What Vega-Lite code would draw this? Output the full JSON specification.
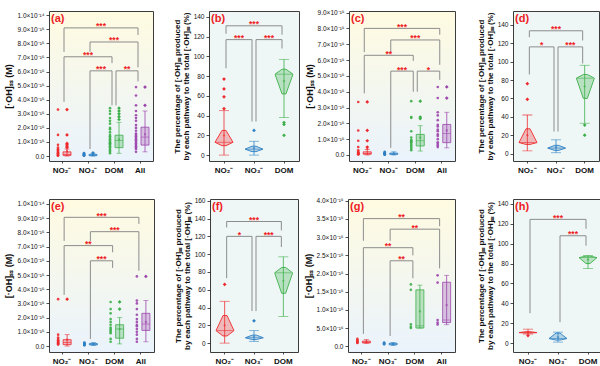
{
"$schema":"https://vega.github.io/schema/vega-lite/v6.json",
"padding":{"left":4,"top":9,"right":0,"bottom":0},
"background":"white",
"config":{
 "font":"Liberation Sans",
 "axis":{"domain":false,"grid":false,"tickColor":"#222","tickSize":3,"tickWidth":0.8,"labelFontSize":6.5,"labelColor":"#111","titleFontWeight":"bold","titleFontSize":9,"titleColor":"#111","labelPadding":2,"titlePadding":3,"labelOverlap":false},
 "axisX":{"labelFontSize":8,"labelFontWeight":"bold","labelAngle":0,"tickSize":2,"labelPadding":3}
},
"spacing":22,
"vconcat":[
{"hconcat":[
 {"hconcat":[
  {"width":104,"height":150,
   "view":{"fill":{"gradient":"linear","x1":0,"y1":0,"x2":0,"y2":1,"stops":[{"offset":0,"color":"#fffbe1"},{"offset":1,"color":"#eaf3fc"}]},"stroke":"#3c3c3c","strokeWidth":1},
   "layer":[
    {"data":{"name":"a_pts"},"mark":{"type":"circle","size":7,"opacity":0.9,"xOffset":-4},
     "encoding":{"x":{"field":"c","type":"nominal","bandPosition":0.5,"scale":{"type":"band","domain":["NO₂⁻","NO₃⁻","DOM","All"],"paddingInner":0,"paddingOuter":0},"axis":{"title":null}},
      "y":{"field":"v","type":"quantitative","scale":{"domain":[-0.35,10.3],"nice":false,"zero":false},"axis":{"title":"[·OH]ₛₛ (M)","values":[0,1,2,3,4,5,6,7,8,9,10],"tickCount":30,"labelOverlap":false,"labelExpr":"datum.value == 0 ? '0.0' : datum.value >= 10 ? '1.0×10⁻¹⁴' : format(datum.value, '.1f') + '×10⁻¹⁵'"}},
      "color":{"field":"c","type":"nominal","scale":{"domain":["NO₂⁻","NO₃⁻","DOM","All"],"range":["#ee2a2e","#2f80c3","#3daf4a","#9c45ac"]},"legend":null}}},
    {"data":{"name":"a_box"},"mark":{"type":"rule","xOffset":5,"strokeWidth":0.8},
     "encoding":{"x":{"field":"c","type":"nominal","bandPosition":0.5,"scale":{"type":"band","domain":["NO₂⁻","NO₃⁻","DOM","All"],"paddingInner":0,"paddingOuter":0}},"y":{"field":"lo","type":"quantitative"},"y2":{"field":"hi"},"color":{"field":"c","type":"nominal","scale":{"domain":["NO₂⁻","NO₃⁻","DOM","All"],"range":["#ee2a2e","#2f80c3","#3daf4a","#9c45ac"]},"legend":null}}},
    {"data":{"name":"a_box"},"mark":{"type":"tick","xOffset":5,"size":5,"thickness":0.8,"orient":"horizontal"},
     "encoding":{"x":{"field":"c","type":"nominal","bandPosition":0.5,"scale":{"type":"band","domain":["NO₂⁻","NO₃⁻","DOM","All"],"paddingInner":0,"paddingOuter":0}},"y":{"field":"hi","type":"quantitative"},"color":{"field":"c","type":"nominal","scale":{"domain":["NO₂⁻","NO₃⁻","DOM","All"],"range":["#ee2a2e","#2f80c3","#3daf4a","#9c45ac"]},"legend":null}}},
    {"data":{"name":"a_box"},"mark":{"type":"tick","xOffset":5,"size":5,"thickness":0.8,"orient":"horizontal"},
     "encoding":{"x":{"field":"c","type":"nominal","bandPosition":0.5,"scale":{"type":"band","domain":["NO₂⁻","NO₃⁻","DOM","All"],"paddingInner":0,"paddingOuter":0}},"y":{"field":"lo","type":"quantitative"},"color":{"field":"c","type":"nominal","scale":{"domain":["NO₂⁻","NO₃⁻","DOM","All"],"range":["#ee2a2e","#2f80c3","#3daf4a","#9c45ac"]},"legend":null}}},
    {"data":{"name":"a_box"},"mark":{"type":"bar","width":8,"xOffset":5,"fillOpacity":0.3,"strokeWidth":0.8},
     "encoding":{"x":{"field":"c","type":"nominal","bandPosition":0.5,"scale":{"type":"band","domain":["NO₂⁻","NO₃⁻","DOM","All"],"paddingInner":0,"paddingOuter":0}},"y":{"field":"q1","type":"quantitative"},"y2":{"field":"q3"},"fill":{"field":"c","type":"nominal","scale":{"domain":["NO₂⁻","NO₃⁻","DOM","All"],"range":["#ee2a2e","#2f80c3","#3daf4a","#9c45ac"]},"legend":null},"stroke":{"field":"c","type":"nominal","scale":{"domain":["NO₂⁻","NO₃⁻","DOM","All"],"range":["#ee2a2e","#2f80c3","#3daf4a","#9c45ac"]},"legend":null}}},
    {"data":{"name":"a_box"},"mark":{"type":"tick","xOffset":5,"size":8,"thickness":0.8,"orient":"horizontal"},
     "encoding":{"x":{"field":"c","type":"nominal","bandPosition":0.5,"scale":{"type":"band","domain":["NO₂⁻","NO₃⁻","DOM","All"],"paddingInner":0,"paddingOuter":0}},"y":{"field":"med","type":"quantitative"},"color":{"field":"c","type":"nominal","scale":{"domain":["NO₂⁻","NO₃⁻","DOM","All"],"range":["#ee2a2e","#2f80c3","#3daf4a","#9c45ac"]},"legend":null}}},
    {"data":{"name":"a_box"},"mark":{"type":"square","xOffset":5,"size":4,"filled":true},
     "encoding":{"x":{"field":"c","type":"nominal","bandPosition":0.5,"scale":{"type":"band","domain":["NO₂⁻","NO₃⁻","DOM","All"],"paddingInner":0,"paddingOuter":0}},"y":{"field":"mean","type":"quantitative"},"color":{"field":"c","type":"nominal","scale":{"domain":["NO₂⁻","NO₃⁻","DOM","All"],"range":["#ee2a2e","#2f80c3","#3daf4a","#9c45ac"]},"legend":null}}},
    {"data":{"name":"a_out"},"mark":{"type":"point","shape":"diamond","filled":true,"size":14,"opacity":1,"xOffset":5},
     "encoding":{"x":{"field":"c","type":"nominal","bandPosition":0.5,"scale":{"type":"band","domain":["NO₂⁻","NO₃⁻","DOM","All"],"paddingInner":0,"paddingOuter":0}},"y":{"field":"v","type":"quantitative"},"color":{"field":"c","type":"nominal","scale":{"domain":["NO₂⁻","NO₃⁻","DOM","All"],"range":["#ee2a2e","#2f80c3","#3daf4a","#9c45ac"]},"legend":null}}},
    {"data":{"name":"a_br"},"mark":{"type":"rule","color":"#8c8c8c","strokeWidth":1,"xOffset":2,"x2Offset":-2},
     "encoding":{"x":{"field":"g1","type":"nominal","bandPosition":0.5,"scale":{"type":"band","domain":["NO₂⁻","NO₃⁻","DOM","All"],"paddingInner":0,"paddingOuter":0}},"x2":{"field":"g2","bandPosition":0.5},"y":{"field":"h","type":"quantitative"}}},
    {"data":{"name":"a_br"},"mark":{"type":"rule","color":"#8c8c8c","strokeWidth":1,"xOffset":2},
     "encoding":{"x":{"field":"g1","type":"nominal","bandPosition":0.5,"scale":{"type":"band","domain":["NO₂⁻","NO₃⁻","DOM","All"],"paddingInner":0,"paddingOuter":0}},"y":{"field":"h","type":"quantitative"},"y2":{"field":"yl"}}},
    {"data":{"name":"a_br"},"mark":{"type":"rule","color":"#8c8c8c","strokeWidth":1,"xOffset":-2},
     "encoding":{"x":{"field":"g2","type":"nominal","bandPosition":0.5,"scale":{"type":"band","domain":["NO₂⁻","NO₃⁻","DOM","All"],"paddingInner":0,"paddingOuter":0}},"y":{"field":"h","type":"quantitative"},"y2":{"field":"yr"}}},
    {"data":{"name":"a_br"},"transform":[{"filter":"isValid(datum.atc)"}],"mark":{"type":"text","color":"#ee1c25","fontSize":8.5,"fontWeight":"bold","baseline":"alphabetic","dy":1.5},
     "encoding":{"x":{"field":"atc","type":"nominal","bandPosition":0.5,"scale":{"type":"band","domain":["NO₂⁻","NO₃⁻","DOM","All"],"paddingInner":0,"paddingOuter":0}},"y":{"field":"h","type":"quantitative"},"text":{"field":"s"}}},
    {"data":{"name":"a_br"},"transform":[{"filter":"isValid(datum.ate)"}],"mark":{"type":"text","color":"#ee1c25","fontSize":8.5,"fontWeight":"bold","baseline":"alphabetic","dy":1.5},
     "encoding":{"x":{"field":"ate","type":"nominal","bandPosition":0,"scale":{"type":"band","domain":["NO₂⁻","NO₃⁻","DOM","All"],"paddingInner":0,"paddingOuter":0}},"y":{"field":"h","type":"quantitative"},"text":{"field":"s"}}},
    {"data":{"values":[{}]},"mark":{"type":"text","text":"(a)","align":"left","baseline":"top","dx":2,"dy":2,"fontSize":11,"fontWeight":"bold","color":"#ee1c25"},
     "encoding":{"x":{"datum":"NO₂⁻","type":"nominal","bandPosition":0,"scale":{"type":"band","domain":["NO₂⁻","NO₃⁻","DOM","All"],"paddingInner":0,"paddingOuter":0}},"y":{"datum":10.3,"type":"quantitative"}}}
   ]},
  {"width":90,"height":150,
   "view":{"fill":"#eef7f6","stroke":"#3c3c3c","strokeWidth":1},
   "layer":[
    {"data":{"name":"b_box"},"mark":{"type":"rule","strokeWidth":0.8},
     "encoding":{"x":{"field":"c","type":"nominal","bandPosition":0.5,"scale":{"type":"band","domain":["NO₂⁻","NO₃⁻","DOM"],"paddingInner":0,"paddingOuter":0},"axis":{"title":null}},
      "y":{"field":"lo","type":"quantitative","scale":{"domain":[-6,146],"nice":false,"zero":false},"axis":{"title":["The percentage of [·OH]ₛₛ produced","by each pathway to the total [·OH]ₛₛ (%)"],"values":[0,20,40,60,80,100,120,140],"tickCount":30,"labelOverlap":false,"titleFontSize":8,"titleLineHeight":9}},
      "y2":{"field":"hi"},"color":{"field":"c","type":"nominal","scale":{"domain":["NO₂⁻","NO₃⁻","DOM","All"],"range":["#ee2a2e","#2f80c3","#3daf4a","#9c45ac"]},"legend":null}}},
    {"data":{"name":"b_box"},"mark":{"type":"tick","size":10,"thickness":0.8,"orient":"horizontal"},
     "encoding":{"x":{"field":"c","type":"nominal","bandPosition":0.5,"scale":{"type":"band","domain":["NO₂⁻","NO₃⁻","DOM"],"paddingInner":0,"paddingOuter":0}},"y":{"field":"lo","type":"quantitative"},"color":{"field":"c","type":"nominal","scale":{"domain":["NO₂⁻","NO₃⁻","DOM","All"],"range":["#ee2a2e","#2f80c3","#3daf4a","#9c45ac"]},"legend":null}}},
    {"data":{"name":"b_box"},"mark":{"type":"tick","size":10,"thickness":0.8,"orient":"horizontal"},
     "encoding":{"x":{"field":"c","type":"nominal","bandPosition":0.5,"scale":{"type":"band","domain":["NO₂⁻","NO₃⁻","DOM"],"paddingInner":0,"paddingOuter":0}},"y":{"field":"hi","type":"quantitative"},"color":{"field":"c","type":"nominal","scale":{"domain":["NO₂⁻","NO₃⁻","DOM","All"],"range":["#ee2a2e","#2f80c3","#3daf4a","#9c45ac"]},"legend":null}}},
    {"data":{"name":"b_box"},"transform":[{"fold":["q1","med","q3","q3","med","q1","q1"],"as":["k","kv"]},{"window":[{"op":"row_number","as":"idx"}],"groupby":["c"]}],"mark":{"type":"line","strokeWidth":0.9,"strokeJoin":"miter","fillOpacity":0.3},
     "encoding":{"x":{"field":"c","type":"nominal","bandPosition":0.5,"scale":{"type":"band","domain":["NO₂⁻","NO₃⁻","DOM"],"paddingInner":0,"paddingOuter":0}},"xOffset":{"field":"idx","type":"quantitative","scale":{"domain":[1,2,3,4,5,6,7],"range":[13,6,13,17,24,17,13],"zero":false,"nice":false}},"y":{"field":"kv","type":"quantitative"},"order":{"field":"idx","type":"quantitative"},"fill":{"field":"c","type":"nominal","scale":{"domain":["NO₂⁻","NO₃⁻","DOM","All"],"range":["#ee2a2e","#2f80c3","#3daf4a","#9c45ac"]},"legend":null},"stroke":{"field":"c","type":"nominal","scale":{"domain":["NO₂⁻","NO₃⁻","DOM","All"],"range":["#ee2a2e","#2f80c3","#3daf4a","#9c45ac"]},"legend":null}}},
    {"data":{"name":"b_box"},"mark":{"type":"tick","size":16,"thickness":0.8,"orient":"horizontal"},
     "encoding":{"x":{"field":"c","type":"nominal","bandPosition":0.5,"scale":{"type":"band","domain":["NO₂⁻","NO₃⁻","DOM"],"paddingInner":0,"paddingOuter":0}},"y":{"field":"med","type":"quantitative"},"color":{"field":"c","type":"nominal","scale":{"domain":["NO₂⁻","NO₃⁻","DOM","All"],"range":["#ee2a2e","#2f80c3","#3daf4a","#9c45ac"]},"legend":null}}},
    {"data":{"name":"b_box"},"mark":{"type":"point","shape":"cross","size":5,"filled":true},
     "encoding":{"x":{"field":"c","type":"nominal","bandPosition":0.5,"scale":{"type":"band","domain":["NO₂⁻","NO₃⁻","DOM"],"paddingInner":0,"paddingOuter":0}},"y":{"field":"mean","type":"quantitative"},"color":{"field":"c","type":"nominal","scale":{"domain":["NO₂⁻","NO₃⁻","DOM","All"],"range":["#ee2a2e","#2f80c3","#3daf4a","#9c45ac"]},"legend":null}}},
    {"data":{"name":"b_out"},"mark":{"type":"point","shape":"diamond","filled":true,"size":14,"opacity":1},
     "encoding":{"x":{"field":"c","type":"nominal","bandPosition":0.5,"scale":{"type":"band","domain":["NO₂⁻","NO₃⁻","DOM"],"paddingInner":0,"paddingOuter":0}},"y":{"field":"v","type":"quantitative"},"color":{"field":"c","type":"nominal","scale":{"domain":["NO₂⁻","NO₃⁻","DOM","All"],"range":["#ee2a2e","#2f80c3","#3daf4a","#9c45ac"]},"legend":null}}},
    {"data":{"name":"b_br"},"mark":{"type":"rule","color":"#8c8c8c","strokeWidth":1,"xOffset":2,"x2Offset":-2},
     "encoding":{"x":{"field":"g1","type":"nominal","bandPosition":0.5,"scale":{"type":"band","domain":["NO₂⁻","NO₃⁻","DOM"],"paddingInner":0,"paddingOuter":0}},"x2":{"field":"g2","bandPosition":0.5},"y":{"field":"h","type":"quantitative"}}},
    {"data":{"name":"b_br"},"mark":{"type":"rule","color":"#8c8c8c","strokeWidth":1,"xOffset":2},
     "encoding":{"x":{"field":"g1","type":"nominal","bandPosition":0.5,"scale":{"type":"band","domain":["NO₂⁻","NO₃⁻","DOM"],"paddingInner":0,"paddingOuter":0}},"y":{"field":"h","type":"quantitative"},"y2":{"field":"yl"}}},
    {"data":{"name":"b_br"},"mark":{"type":"rule","color":"#8c8c8c","strokeWidth":1,"xOffset":-2},
     "encoding":{"x":{"field":"g2","type":"nominal","bandPosition":0.5,"scale":{"type":"band","domain":["NO₂⁻","NO₃⁻","DOM"],"paddingInner":0,"paddingOuter":0}},"y":{"field":"h","type":"quantitative"},"y2":{"field":"yr"}}},
    {"data":{"name":"b_br"},"transform":[{"filter":"isValid(datum.atc)"}],"mark":{"type":"text","color":"#ee1c25","fontSize":8.5,"fontWeight":"bold","baseline":"alphabetic","dy":1.5},
     "encoding":{"x":{"field":"atc","type":"nominal","bandPosition":0.5,"scale":{"type":"band","domain":["NO₂⁻","NO₃⁻","DOM"],"paddingInner":0,"paddingOuter":0}},"y":{"field":"h","type":"quantitative"},"text":{"field":"s"}}},
    {"data":{"name":"b_br"},"transform":[{"filter":"isValid(datum.ate)"}],"mark":{"type":"text","color":"#ee1c25","fontSize":8.5,"fontWeight":"bold","baseline":"alphabetic","dy":1.5},
     "encoding":{"x":{"field":"ate","type":"nominal","bandPosition":0,"scale":{"type":"band","domain":["NO₂⁻","NO₃⁻","DOM"],"paddingInner":0,"paddingOuter":0}},"y":{"field":"h","type":"quantitative"},"text":{"field":"s"}}},
    {"data":{"values":[{}]},"mark":{"type":"text","text":"(b)","align":"left","baseline":"top","dx":2,"dy":2,"fontSize":11,"fontWeight":"bold","color":"#ee1c25"},
     "encoding":{"x":{"datum":"NO₂⁻","type":"nominal","bandPosition":0,"scale":{"type":"band","domain":["NO₂⁻","NO₃⁻","DOM"],"paddingInner":0,"paddingOuter":0}},"y":{"datum":146,"type":"quantitative"}}}
   ]}
 ],"spacing":18},
 {"hconcat":[
  {"width":106,"height":150,
   "view":{"fill":{"gradient":"linear","x1":0,"y1":0,"x2":0,"y2":1,"stops":[{"offset":0,"color":"#fffbe1"},{"offset":1,"color":"#eaf3fc"}]},"stroke":"#3c3c3c","strokeWidth":1},
   "layer":[
    {"data":{"name":"c_pts"},"mark":{"type":"circle","size":7,"opacity":0.9,"xOffset":-4},
     "encoding":{"x":{"field":"c","type":"nominal","bandPosition":0.5,"scale":{"type":"band","domain":["NO₂⁻","NO₃⁻","DOM","All"],"paddingInner":0,"paddingOuter":0},"axis":{"title":null}},
      "y":{"field":"v","type":"quantitative","scale":{"domain":[-0.38,9.1],"nice":false,"zero":false},"axis":{"title":"[·OH]ₛₛ (M)","values":[0,1,2,3,4,5,6,7,8,9],"tickCount":30,"labelOverlap":false,"labelExpr":"datum.value == 0 ? '0.0' : datum.value >= 10 ? '1.0×10⁻¹⁴' : format(datum.value, '.1f') + '×10⁻¹⁵'"}},
      "color":{"field":"c","type":"nominal","scale":{"domain":["NO₂⁻","NO₃⁻","DOM","All"],"range":["#ee2a2e","#2f80c3","#3daf4a","#9c45ac"]},"legend":null}}},
    {"data":{"name":"c_box"},"mark":{"type":"rule","xOffset":5,"strokeWidth":0.8},
     "encoding":{"x":{"field":"c","type":"nominal","bandPosition":0.5,"scale":{"type":"band","domain":["NO₂⁻","NO₃⁻","DOM","All"],"paddingInner":0,"paddingOuter":0}},"y":{"field":"lo","type":"quantitative"},"y2":{"field":"hi"},"color":{"field":"c","type":"nominal","scale":{"domain":["NO₂⁻","NO₃⁻","DOM","All"],"range":["#ee2a2e","#2f80c3","#3daf4a","#9c45ac"]},"legend":null}}},
    {"data":{"name":"c_box"},"mark":{"type":"tick","xOffset":5,"size":5,"thickness":0.8,"orient":"horizontal"},
     "encoding":{"x":{"field":"c","type":"nominal","bandPosition":0.5,"scale":{"type":"band","domain":["NO₂⁻","NO₃⁻","DOM","All"],"paddingInner":0,"paddingOuter":0}},"y":{"field":"hi","type":"quantitative"},"color":{"field":"c","type":"nominal","scale":{"domain":["NO₂⁻","NO₃⁻","DOM","All"],"range":["#ee2a2e","#2f80c3","#3daf4a","#9c45ac"]},"legend":null}}},
    {"data":{"name":"c_box"},"mark":{"type":"tick","xOffset":5,"size":5,"thickness":0.8,"orient":"horizontal"},
     "encoding":{"x":{"field":"c","type":"nominal","bandPosition":0.5,"scale":{"type":"band","domain":["NO₂⁻","NO₃⁻","DOM","All"],"paddingInner":0,"paddingOuter":0}},"y":{"field":"lo","type":"quantitative"},"color":{"field":"c","type":"nominal","scale":{"domain":["NO₂⁻","NO₃⁻","DOM","All"],"range":["#ee2a2e","#2f80c3","#3daf4a","#9c45ac"]},"legend":null}}},
    {"data":{"name":"c_box"},"mark":{"type":"bar","width":8,"xOffset":5,"fillOpacity":0.3,"strokeWidth":0.8},
     "encoding":{"x":{"field":"c","type":"nominal","bandPosition":0.5,"scale":{"type":"band","domain":["NO₂⁻","NO₃⁻","DOM","All"],"paddingInner":0,"paddingOuter":0}},"y":{"field":"q1","type":"quantitative"},"y2":{"field":"q3"},"fill":{"field":"c","type":"nominal","scale":{"domain":["NO₂⁻","NO₃⁻","DOM","All"],"range":["#ee2a2e","#2f80c3","#3daf4a","#9c45ac"]},"legend":null},"stroke":{"field":"c","type":"nominal","scale":{"domain":["NO₂⁻","NO₃⁻","DOM","All"],"range":["#ee2a2e","#2f80c3","#3daf4a","#9c45ac"]},"legend":null}}},
    {"data":{"name":"c_box"},"mark":{"type":"tick","xOffset":5,"size":8,"thickness":0.8,"orient":"horizontal"},
     "encoding":{"x":{"field":"c","type":"nominal","bandPosition":0.5,"scale":{"type":"band","domain":["NO₂⁻","NO₃⁻","DOM","All"],"paddingInner":0,"paddingOuter":0}},"y":{"field":"med","type":"quantitative"},"color":{"field":"c","type":"nominal","scale":{"domain":["NO₂⁻","NO₃⁻","DOM","All"],"range":["#ee2a2e","#2f80c3","#3daf4a","#9c45ac"]},"legend":null}}},
    {"data":{"name":"c_box"},"mark":{"type":"square","xOffset":5,"size":4,"filled":true},
     "encoding":{"x":{"field":"c","type":"nominal","bandPosition":0.5,"scale":{"type":"band","domain":["NO₂⁻","NO₃⁻","DOM","All"],"paddingInner":0,"paddingOuter":0}},"y":{"field":"mean","type":"quantitative"},"color":{"field":"c","type":"nominal","scale":{"domain":["NO₂⁻","NO₃⁻","DOM","All"],"range":["#ee2a2e","#2f80c3","#3daf4a","#9c45ac"]},"legend":null}}},
    {"data":{"name":"c_out"},"mark":{"type":"point","shape":"diamond","filled":true,"size":14,"opacity":1,"xOffset":5},
     "encoding":{"x":{"field":"c","type":"nominal","bandPosition":0.5,"scale":{"type":"band","domain":["NO₂⁻","NO₃⁻","DOM","All"],"paddingInner":0,"paddingOuter":0}},"y":{"field":"v","type":"quantitative"},"color":{"field":"c","type":"nominal","scale":{"domain":["NO₂⁻","NO₃⁻","DOM","All"],"range":["#ee2a2e","#2f80c3","#3daf4a","#9c45ac"]},"legend":null}}},
    {"data":{"name":"c_br"},"mark":{"type":"rule","color":"#8c8c8c","strokeWidth":1,"xOffset":2,"x2Offset":-2},
     "encoding":{"x":{"field":"g1","type":"nominal","bandPosition":0.5,"scale":{"type":"band","domain":["NO₂⁻","NO₃⁻","DOM","All"],"paddingInner":0,"paddingOuter":0}},"x2":{"field":"g2","bandPosition":0.5},"y":{"field":"h","type":"quantitative"}}},
    {"data":{"name":"c_br"},"mark":{"type":"rule","color":"#8c8c8c","strokeWidth":1,"xOffset":2},
     "encoding":{"x":{"field":"g1","type":"nominal","bandPosition":0.5,"scale":{"type":"band","domain":["NO₂⁻","NO₃⁻","DOM","All"],"paddingInner":0,"paddingOuter":0}},"y":{"field":"h","type":"quantitative"},"y2":{"field":"yl"}}},
    {"data":{"name":"c_br"},"mark":{"type":"rule","color":"#8c8c8c","strokeWidth":1,"xOffset":-2},
     "encoding":{"x":{"field":"g2","type":"nominal","bandPosition":0.5,"scale":{"type":"band","domain":["NO₂⁻","NO₃⁻","DOM","All"],"paddingInner":0,"paddingOuter":0}},"y":{"field":"h","type":"quantitative"},"y2":{"field":"yr"}}},
    {"data":{"name":"c_br"},"transform":[{"filter":"isValid(datum.atc)"}],"mark":{"type":"text","color":"#ee1c25","fontSize":8.5,"fontWeight":"bold","baseline":"alphabetic","dy":1.5},
     "encoding":{"x":{"field":"atc","type":"nominal","bandPosition":0.5,"scale":{"type":"band","domain":["NO₂⁻","NO₃⁻","DOM","All"],"paddingInner":0,"paddingOuter":0}},"y":{"field":"h","type":"quantitative"},"text":{"field":"s"}}},
    {"data":{"name":"c_br"},"transform":[{"filter":"isValid(datum.ate)"}],"mark":{"type":"text","color":"#ee1c25","fontSize":8.5,"fontWeight":"bold","baseline":"alphabetic","dy":1.5},
     "encoding":{"x":{"field":"ate","type":"nominal","bandPosition":0,"scale":{"type":"band","domain":["NO₂⁻","NO₃⁻","DOM","All"],"paddingInner":0,"paddingOuter":0}},"y":{"field":"h","type":"quantitative"},"text":{"field":"s"}}},
    {"data":{"values":[{}]},"mark":{"type":"text","text":"(c)","align":"left","baseline":"top","dx":2,"dy":2,"fontSize":11,"fontWeight":"bold","color":"#ee1c25"},
     "encoding":{"x":{"datum":"NO₂⁻","type":"nominal","bandPosition":0,"scale":{"type":"band","domain":["NO₂⁻","NO₃⁻","DOM","All"],"paddingInner":0,"paddingOuter":0}},"y":{"datum":9.1,"type":"quantitative"}}}
   ]},
  {"width":86,"height":150,
   "view":{"fill":"#eef7f6","stroke":"#3c3c3c","strokeWidth":1},
   "layer":[
    {"data":{"name":"d_box"},"mark":{"type":"rule","strokeWidth":0.8},
     "encoding":{"x":{"field":"c","type":"nominal","bandPosition":0.5,"scale":{"type":"band","domain":["NO₂⁻","NO₃⁻","DOM"],"paddingInner":0,"paddingOuter":0},"axis":{"title":null}},
      "y":{"field":"lo","type":"quantitative","scale":{"domain":[-8,155],"nice":false,"zero":false},"axis":{"title":["The percentage of [·OH]ₛₛ produced","by each pathway to the total [·OH]ₛₛ (%)"],"values":[0,20,40,60,80,100,120,140],"tickCount":30,"labelOverlap":false,"titleFontSize":8,"titleLineHeight":9}},
      "y2":{"field":"hi"},"color":{"field":"c","type":"nominal","scale":{"domain":["NO₂⁻","NO₃⁻","DOM","All"],"range":["#ee2a2e","#2f80c3","#3daf4a","#9c45ac"]},"legend":null}}},
    {"data":{"name":"d_box"},"mark":{"type":"tick","size":10,"thickness":0.8,"orient":"horizontal"},
     "encoding":{"x":{"field":"c","type":"nominal","bandPosition":0.5,"scale":{"type":"band","domain":["NO₂⁻","NO₃⁻","DOM"],"paddingInner":0,"paddingOuter":0}},"y":{"field":"lo","type":"quantitative"},"color":{"field":"c","type":"nominal","scale":{"domain":["NO₂⁻","NO₃⁻","DOM","All"],"range":["#ee2a2e","#2f80c3","#3daf4a","#9c45ac"]},"legend":null}}},
    {"data":{"name":"d_box"},"mark":{"type":"tick","size":10,"thickness":0.8,"orient":"horizontal"},
     "encoding":{"x":{"field":"c","type":"nominal","bandPosition":0.5,"scale":{"type":"band","domain":["NO₂⁻","NO₃⁻","DOM"],"paddingInner":0,"paddingOuter":0}},"y":{"field":"hi","type":"quantitative"},"color":{"field":"c","type":"nominal","scale":{"domain":["NO₂⁻","NO₃⁻","DOM","All"],"range":["#ee2a2e","#2f80c3","#3daf4a","#9c45ac"]},"legend":null}}},
    {"data":{"name":"d_box"},"transform":[{"fold":["q1","med","q3","q3","med","q1","q1"],"as":["k","kv"]},{"window":[{"op":"row_number","as":"idx"}],"groupby":["c"]}],"mark":{"type":"line","strokeWidth":0.9,"strokeJoin":"miter","fillOpacity":0.3},
     "encoding":{"x":{"field":"c","type":"nominal","bandPosition":0.5,"scale":{"type":"band","domain":["NO₂⁻","NO₃⁻","DOM"],"paddingInner":0,"paddingOuter":0}},"xOffset":{"field":"idx","type":"quantitative","scale":{"domain":[1,2,3,4,5,6,7],"range":[12.33,5.33,12.33,16.33,23.33,16.33,12.33],"zero":false,"nice":false}},"y":{"field":"kv","type":"quantitative"},"order":{"field":"idx","type":"quantitative"},"fill":{"field":"c","type":"nominal","scale":{"domain":["NO₂⁻","NO₃⁻","DOM","All"],"range":["#ee2a2e","#2f80c3","#3daf4a","#9c45ac"]},"legend":null},"stroke":{"field":"c","type":"nominal","scale":{"domain":["NO₂⁻","NO₃⁻","DOM","All"],"range":["#ee2a2e","#2f80c3","#3daf4a","#9c45ac"]},"legend":null}}},
    {"data":{"name":"d_box"},"mark":{"type":"tick","size":16,"thickness":0.8,"orient":"horizontal"},
     "encoding":{"x":{"field":"c","type":"nominal","bandPosition":0.5,"scale":{"type":"band","domain":["NO₂⁻","NO₃⁻","DOM"],"paddingInner":0,"paddingOuter":0}},"y":{"field":"med","type":"quantitative"},"color":{"field":"c","type":"nominal","scale":{"domain":["NO₂⁻","NO₃⁻","DOM","All"],"range":["#ee2a2e","#2f80c3","#3daf4a","#9c45ac"]},"legend":null}}},
    {"data":{"name":"d_box"},"mark":{"type":"point","shape":"cross","size":5,"filled":true},
     "encoding":{"x":{"field":"c","type":"nominal","bandPosition":0.5,"scale":{"type":"band","domain":["NO₂⁻","NO₃⁻","DOM"],"paddingInner":0,"paddingOuter":0}},"y":{"field":"mean","type":"quantitative"},"color":{"field":"c","type":"nominal","scale":{"domain":["NO₂⁻","NO₃⁻","DOM","All"],"range":["#ee2a2e","#2f80c3","#3daf4a","#9c45ac"]},"legend":null}}},
    {"data":{"name":"d_out"},"mark":{"type":"point","shape":"diamond","filled":true,"size":14,"opacity":1},
     "encoding":{"x":{"field":"c","type":"nominal","bandPosition":0.5,"scale":{"type":"band","domain":["NO₂⁻","NO₃⁻","DOM"],"paddingInner":0,"paddingOuter":0}},"y":{"field":"v","type":"quantitative"},"color":{"field":"c","type":"nominal","scale":{"domain":["NO₂⁻","NO₃⁻","DOM","All"],"range":["#ee2a2e","#2f80c3","#3daf4a","#9c45ac"]},"legend":null}}},
    {"data":{"name":"d_br"},"mark":{"type":"rule","color":"#8c8c8c","strokeWidth":1,"xOffset":2,"x2Offset":-2},
     "encoding":{"x":{"field":"g1","type":"nominal","bandPosition":0.5,"scale":{"type":"band","domain":["NO₂⁻","NO₃⁻","DOM"],"paddingInner":0,"paddingOuter":0}},"x2":{"field":"g2","bandPosition":0.5},"y":{"field":"h","type":"quantitative"}}},
    {"data":{"name":"d_br"},"mark":{"type":"rule","color":"#8c8c8c","strokeWidth":1,"xOffset":2},
     "encoding":{"x":{"field":"g1","type":"nominal","bandPosition":0.5,"scale":{"type":"band","domain":["NO₂⁻","NO₃⁻","DOM"],"paddingInner":0,"paddingOuter":0}},"y":{"field":"h","type":"quantitative"},"y2":{"field":"yl"}}},
    {"data":{"name":"d_br"},"mark":{"type":"rule","color":"#8c8c8c","strokeWidth":1,"xOffset":-2},
     "encoding":{"x":{"field":"g2","type":"nominal","bandPosition":0.5,"scale":{"type":"band","domain":["NO₂⁻","NO₃⁻","DOM"],"paddingInner":0,"paddingOuter":0}},"y":{"field":"h","type":"quantitative"},"y2":{"field":"yr"}}},
    {"data":{"name":"d_br"},"transform":[{"filter":"isValid(datum.atc)"}],"mark":{"type":"text","color":"#ee1c25","fontSize":8.5,"fontWeight":"bold","baseline":"alphabetic","dy":1.5},
     "encoding":{"x":{"field":"atc","type":"nominal","bandPosition":0.5,"scale":{"type":"band","domain":["NO₂⁻","NO₃⁻","DOM"],"paddingInner":0,"paddingOuter":0}},"y":{"field":"h","type":"quantitative"},"text":{"field":"s"}}},
    {"data":{"name":"d_br"},"transform":[{"filter":"isValid(datum.ate)"}],"mark":{"type":"text","color":"#ee1c25","fontSize":8.5,"fontWeight":"bold","baseline":"alphabetic","dy":1.5},
     "encoding":{"x":{"field":"ate","type":"nominal","bandPosition":0,"scale":{"type":"band","domain":["NO₂⁻","NO₃⁻","DOM"],"paddingInner":0,"paddingOuter":0}},"y":{"field":"h","type":"quantitative"},"text":{"field":"s"}}},
    {"data":{"values":[{}]},"mark":{"type":"text","text":"(d)","align":"left","baseline":"top","dx":2,"dy":2,"fontSize":11,"fontWeight":"bold","color":"#ee1c25"},
     "encoding":{"x":{"datum":"NO₂⁻","type":"nominal","bandPosition":0,"scale":{"type":"band","domain":["NO₂⁻","NO₃⁻","DOM"],"paddingInner":0,"paddingOuter":0}},"y":{"datum":155,"type":"quantitative"}}}
   ]}
 ],"spacing":20}
],"spacing":4},
{"hconcat":[
 {"hconcat":[
  {"width":105,"height":153,
   "view":{"fill":{"gradient":"linear","x1":0,"y1":0,"x2":0,"y2":1,"stops":[{"offset":0,"color":"#fffbe1"},{"offset":1,"color":"#eaf3fc"}]},"stroke":"#3c3c3c","strokeWidth":1},
   "layer":[
    {"data":{"name":"e_pts"},"mark":{"type":"circle","size":7,"opacity":0.9,"xOffset":-4},
     "encoding":{"x":{"field":"c","type":"nominal","bandPosition":0.5,"scale":{"type":"band","domain":["NO₂⁻","NO₃⁻","DOM","All"],"paddingInner":0,"paddingOuter":0},"axis":{"title":null}},
      "y":{"field":"v","type":"quantitative","scale":{"domain":[-0.42,10.35],"nice":false,"zero":false},"axis":{"title":"[·OH]ₛₛ (M)","values":[0,1,2,3,4,5,6,7,8,9,10],"tickCount":30,"labelOverlap":false,"labelExpr":"datum.value == 0 ? '0.0' : datum.value >= 10 ? '1.0×10⁻¹⁴' : format(datum.value, '.1f') + '×10⁻¹⁵'"}},
      "color":{"field":"c","type":"nominal","scale":{"domain":["NO₂⁻","NO₃⁻","DOM","All"],"range":["#ee2a2e","#2f80c3","#3daf4a","#9c45ac"]},"legend":null}}},
    {"data":{"name":"e_box"},"mark":{"type":"rule","xOffset":5,"strokeWidth":0.8},
     "encoding":{"x":{"field":"c","type":"nominal","bandPosition":0.5,"scale":{"type":"band","domain":["NO₂⁻","NO₃⁻","DOM","All"],"paddingInner":0,"paddingOuter":0}},"y":{"field":"lo","type":"quantitative"},"y2":{"field":"hi"},"color":{"field":"c","type":"nominal","scale":{"domain":["NO₂⁻","NO₃⁻","DOM","All"],"range":["#ee2a2e","#2f80c3","#3daf4a","#9c45ac"]},"legend":null}}},
    {"data":{"name":"e_box"},"mark":{"type":"tick","xOffset":5,"size":5,"thickness":0.8,"orient":"horizontal"},
     "encoding":{"x":{"field":"c","type":"nominal","bandPosition":0.5,"scale":{"type":"band","domain":["NO₂⁻","NO₃⁻","DOM","All"],"paddingInner":0,"paddingOuter":0}},"y":{"field":"hi","type":"quantitative"},"color":{"field":"c","type":"nominal","scale":{"domain":["NO₂⁻","NO₃⁻","DOM","All"],"range":["#ee2a2e","#2f80c3","#3daf4a","#9c45ac"]},"legend":null}}},
    {"data":{"name":"e_box"},"mark":{"type":"tick","xOffset":5,"size":5,"thickness":0.8,"orient":"horizontal"},
     "encoding":{"x":{"field":"c","type":"nominal","bandPosition":0.5,"scale":{"type":"band","domain":["NO₂⁻","NO₃⁻","DOM","All"],"paddingInner":0,"paddingOuter":0}},"y":{"field":"lo","type":"quantitative"},"color":{"field":"c","type":"nominal","scale":{"domain":["NO₂⁻","NO₃⁻","DOM","All"],"range":["#ee2a2e","#2f80c3","#3daf4a","#9c45ac"]},"legend":null}}},
    {"data":{"name":"e_box"},"mark":{"type":"bar","width":8,"xOffset":5,"fillOpacity":0.3,"strokeWidth":0.8},
     "encoding":{"x":{"field":"c","type":"nominal","bandPosition":0.5,"scale":{"type":"band","domain":["NO₂⁻","NO₃⁻","DOM","All"],"paddingInner":0,"paddingOuter":0}},"y":{"field":"q1","type":"quantitative"},"y2":{"field":"q3"},"fill":{"field":"c","type":"nominal","scale":{"domain":["NO₂⁻","NO₃⁻","DOM","All"],"range":["#ee2a2e","#2f80c3","#3daf4a","#9c45ac"]},"legend":null},"stroke":{"field":"c","type":"nominal","scale":{"domain":["NO₂⁻","NO₃⁻","DOM","All"],"range":["#ee2a2e","#2f80c3","#3daf4a","#9c45ac"]},"legend":null}}},
    {"data":{"name":"e_box"},"mark":{"type":"tick","xOffset":5,"size":8,"thickness":0.8,"orient":"horizontal"},
     "encoding":{"x":{"field":"c","type":"nominal","bandPosition":0.5,"scale":{"type":"band","domain":["NO₂⁻","NO₃⁻","DOM","All"],"paddingInner":0,"paddingOuter":0}},"y":{"field":"med","type":"quantitative"},"color":{"field":"c","type":"nominal","scale":{"domain":["NO₂⁻","NO₃⁻","DOM","All"],"range":["#ee2a2e","#2f80c3","#3daf4a","#9c45ac"]},"legend":null}}},
    {"data":{"name":"e_box"},"mark":{"type":"square","xOffset":5,"size":4,"filled":true},
     "encoding":{"x":{"field":"c","type":"nominal","bandPosition":0.5,"scale":{"type":"band","domain":["NO₂⁻","NO₃⁻","DOM","All"],"paddingInner":0,"paddingOuter":0}},"y":{"field":"mean","type":"quantitative"},"color":{"field":"c","type":"nominal","scale":{"domain":["NO₂⁻","NO₃⁻","DOM","All"],"range":["#ee2a2e","#2f80c3","#3daf4a","#9c45ac"]},"legend":null}}},
    {"data":{"name":"e_out"},"mark":{"type":"point","shape":"diamond","filled":true,"size":14,"opacity":1,"xOffset":5},
     "encoding":{"x":{"field":"c","type":"nominal","bandPosition":0.5,"scale":{"type":"band","domain":["NO₂⁻","NO₃⁻","DOM","All"],"paddingInner":0,"paddingOuter":0}},"y":{"field":"v","type":"quantitative"},"color":{"field":"c","type":"nominal","scale":{"domain":["NO₂⁻","NO₃⁻","DOM","All"],"range":["#ee2a2e","#2f80c3","#3daf4a","#9c45ac"]},"legend":null}}},
    {"data":{"name":"e_br"},"mark":{"type":"rule","color":"#8c8c8c","strokeWidth":1,"xOffset":2,"x2Offset":-2},
     "encoding":{"x":{"field":"g1","type":"nominal","bandPosition":0.5,"scale":{"type":"band","domain":["NO₂⁻","NO₃⁻","DOM","All"],"paddingInner":0,"paddingOuter":0}},"x2":{"field":"g2","bandPosition":0.5},"y":{"field":"h","type":"quantitative"}}},
    {"data":{"name":"e_br"},"mark":{"type":"rule","color":"#8c8c8c","strokeWidth":1,"xOffset":2},
     "encoding":{"x":{"field":"g1","type":"nominal","bandPosition":0.5,"scale":{"type":"band","domain":["NO₂⁻","NO₃⁻","DOM","All"],"paddingInner":0,"paddingOuter":0}},"y":{"field":"h","type":"quantitative"},"y2":{"field":"yl"}}},
    {"data":{"name":"e_br"},"mark":{"type":"rule","color":"#8c8c8c","strokeWidth":1,"xOffset":-2},
     "encoding":{"x":{"field":"g2","type":"nominal","bandPosition":0.5,"scale":{"type":"band","domain":["NO₂⁻","NO₃⁻","DOM","All"],"paddingInner":0,"paddingOuter":0}},"y":{"field":"h","type":"quantitative"},"y2":{"field":"yr"}}},
    {"data":{"name":"e_br"},"transform":[{"filter":"isValid(datum.atc)"}],"mark":{"type":"text","color":"#ee1c25","fontSize":8.5,"fontWeight":"bold","baseline":"alphabetic","dy":1.5},
     "encoding":{"x":{"field":"atc","type":"nominal","bandPosition":0.5,"scale":{"type":"band","domain":["NO₂⁻","NO₃⁻","DOM","All"],"paddingInner":0,"paddingOuter":0}},"y":{"field":"h","type":"quantitative"},"text":{"field":"s"}}},
    {"data":{"name":"e_br"},"transform":[{"filter":"isValid(datum.ate)"}],"mark":{"type":"text","color":"#ee1c25","fontSize":8.5,"fontWeight":"bold","baseline":"alphabetic","dy":1.5},
     "encoding":{"x":{"field":"ate","type":"nominal","bandPosition":0,"scale":{"type":"band","domain":["NO₂⁻","NO₃⁻","DOM","All"],"paddingInner":0,"paddingOuter":0}},"y":{"field":"h","type":"quantitative"},"text":{"field":"s"}}},
    {"data":{"values":[{}]},"mark":{"type":"text","text":"(e)","align":"left","baseline":"top","dx":2,"dy":2,"fontSize":11,"fontWeight":"bold","color":"#ee1c25"},
     "encoding":{"x":{"datum":"NO₂⁻","type":"nominal","bandPosition":0,"scale":{"type":"band","domain":["NO₂⁻","NO₃⁻","DOM","All"],"paddingInner":0,"paddingOuter":0}},"y":{"datum":10.35,"type":"quantitative"}}}
   ]},
  {"width":88,"height":153,
   "view":{"fill":"#eef7f6","stroke":"#3c3c3c","strokeWidth":1},
   "layer":[
    {"data":{"name":"f_box"},"mark":{"type":"rule","strokeWidth":0.8},
     "encoding":{"x":{"field":"c","type":"nominal","bandPosition":0.5,"scale":{"type":"band","domain":["NO₂⁻","NO₃⁻","DOM"],"paddingInner":0,"paddingOuter":0},"axis":{"title":null}},
      "y":{"field":"lo","type":"quantitative","scale":{"domain":[-10,162],"nice":false,"zero":false},"axis":{"title":["The percentage of [·OH]ₛₛ produced","by each pathway to the total [·OH]ₛₛ (%)"],"values":[0,20,40,60,80,100,120,140,160],"tickCount":30,"labelOverlap":false,"titleFontSize":8,"titleLineHeight":9}},
      "y2":{"field":"hi"},"color":{"field":"c","type":"nominal","scale":{"domain":["NO₂⁻","NO₃⁻","DOM","All"],"range":["#ee2a2e","#2f80c3","#3daf4a","#9c45ac"]},"legend":null}}},
    {"data":{"name":"f_box"},"mark":{"type":"tick","size":10,"thickness":0.8,"orient":"horizontal"},
     "encoding":{"x":{"field":"c","type":"nominal","bandPosition":0.5,"scale":{"type":"band","domain":["NO₂⁻","NO₃⁻","DOM"],"paddingInner":0,"paddingOuter":0}},"y":{"field":"lo","type":"quantitative"},"color":{"field":"c","type":"nominal","scale":{"domain":["NO₂⁻","NO₃⁻","DOM","All"],"range":["#ee2a2e","#2f80c3","#3daf4a","#9c45ac"]},"legend":null}}},
    {"data":{"name":"f_box"},"mark":{"type":"tick","size":10,"thickness":0.8,"orient":"horizontal"},
     "encoding":{"x":{"field":"c","type":"nominal","bandPosition":0.5,"scale":{"type":"band","domain":["NO₂⁻","NO₃⁻","DOM"],"paddingInner":0,"paddingOuter":0}},"y":{"field":"hi","type":"quantitative"},"color":{"field":"c","type":"nominal","scale":{"domain":["NO₂⁻","NO₃⁻","DOM","All"],"range":["#ee2a2e","#2f80c3","#3daf4a","#9c45ac"]},"legend":null}}},
    {"data":{"name":"f_box"},"transform":[{"fold":["q1","med","q3","q3","med","q1","q1"],"as":["k","kv"]},{"window":[{"op":"row_number","as":"idx"}],"groupby":["c"]}],"mark":{"type":"line","strokeWidth":0.9,"strokeJoin":"miter","fillOpacity":0.3},
     "encoding":{"x":{"field":"c","type":"nominal","bandPosition":0.5,"scale":{"type":"band","domain":["NO₂⁻","NO₃⁻","DOM"],"paddingInner":0,"paddingOuter":0}},"xOffset":{"field":"idx","type":"quantitative","scale":{"domain":[1,2,3,4,5,6,7],"range":[12.67,5.67,12.67,16.67,23.67,16.67,12.67],"zero":false,"nice":false}},"y":{"field":"kv","type":"quantitative"},"order":{"field":"idx","type":"quantitative"},"fill":{"field":"c","type":"nominal","scale":{"domain":["NO₂⁻","NO₃⁻","DOM","All"],"range":["#ee2a2e","#2f80c3","#3daf4a","#9c45ac"]},"legend":null},"stroke":{"field":"c","type":"nominal","scale":{"domain":["NO₂⁻","NO₃⁻","DOM","All"],"range":["#ee2a2e","#2f80c3","#3daf4a","#9c45ac"]},"legend":null}}},
    {"data":{"name":"f_box"},"mark":{"type":"tick","size":16,"thickness":0.8,"orient":"horizontal"},
     "encoding":{"x":{"field":"c","type":"nominal","bandPosition":0.5,"scale":{"type":"band","domain":["NO₂⁻","NO₃⁻","DOM"],"paddingInner":0,"paddingOuter":0}},"y":{"field":"med","type":"quantitative"},"color":{"field":"c","type":"nominal","scale":{"domain":["NO₂⁻","NO₃⁻","DOM","All"],"range":["#ee2a2e","#2f80c3","#3daf4a","#9c45ac"]},"legend":null}}},
    {"data":{"name":"f_box"},"mark":{"type":"point","shape":"cross","size":5,"filled":true},
     "encoding":{"x":{"field":"c","type":"nominal","bandPosition":0.5,"scale":{"type":"band","domain":["NO₂⁻","NO₃⁻","DOM"],"paddingInner":0,"paddingOuter":0}},"y":{"field":"mean","type":"quantitative"},"color":{"field":"c","type":"nominal","scale":{"domain":["NO₂⁻","NO₃⁻","DOM","All"],"range":["#ee2a2e","#2f80c3","#3daf4a","#9c45ac"]},"legend":null}}},
    {"data":{"name":"f_out"},"mark":{"type":"point","shape":"diamond","filled":true,"size":14,"opacity":1},
     "encoding":{"x":{"field":"c","type":"nominal","bandPosition":0.5,"scale":{"type":"band","domain":["NO₂⁻","NO₃⁻","DOM"],"paddingInner":0,"paddingOuter":0}},"y":{"field":"v","type":"quantitative"},"color":{"field":"c","type":"nominal","scale":{"domain":["NO₂⁻","NO₃⁻","DOM","All"],"range":["#ee2a2e","#2f80c3","#3daf4a","#9c45ac"]},"legend":null}}},
    {"data":{"name":"f_br"},"mark":{"type":"rule","color":"#8c8c8c","strokeWidth":1,"xOffset":2,"x2Offset":-2},
     "encoding":{"x":{"field":"g1","type":"nominal","bandPosition":0.5,"scale":{"type":"band","domain":["NO₂⁻","NO₃⁻","DOM"],"paddingInner":0,"paddingOuter":0}},"x2":{"field":"g2","bandPosition":0.5},"y":{"field":"h","type":"quantitative"}}},
    {"data":{"name":"f_br"},"mark":{"type":"rule","color":"#8c8c8c","strokeWidth":1,"xOffset":2},
     "encoding":{"x":{"field":"g1","type":"nominal","bandPosition":0.5,"scale":{"type":"band","domain":["NO₂⁻","NO₃⁻","DOM"],"paddingInner":0,"paddingOuter":0}},"y":{"field":"h","type":"quantitative"},"y2":{"field":"yl"}}},
    {"data":{"name":"f_br"},"mark":{"type":"rule","color":"#8c8c8c","strokeWidth":1,"xOffset":-2},
     "encoding":{"x":{"field":"g2","type":"nominal","bandPosition":0.5,"scale":{"type":"band","domain":["NO₂⁻","NO₃⁻","DOM"],"paddingInner":0,"paddingOuter":0}},"y":{"field":"h","type":"quantitative"},"y2":{"field":"yr"}}},
    {"data":{"name":"f_br"},"transform":[{"filter":"isValid(datum.atc)"}],"mark":{"type":"text","color":"#ee1c25","fontSize":8.5,"fontWeight":"bold","baseline":"alphabetic","dy":1.5},
     "encoding":{"x":{"field":"atc","type":"nominal","bandPosition":0.5,"scale":{"type":"band","domain":["NO₂⁻","NO₃⁻","DOM"],"paddingInner":0,"paddingOuter":0}},"y":{"field":"h","type":"quantitative"},"text":{"field":"s"}}},
    {"data":{"name":"f_br"},"transform":[{"filter":"isValid(datum.ate)"}],"mark":{"type":"text","color":"#ee1c25","fontSize":8.5,"fontWeight":"bold","baseline":"alphabetic","dy":1.5},
     "encoding":{"x":{"field":"ate","type":"nominal","bandPosition":0,"scale":{"type":"band","domain":["NO₂⁻","NO₃⁻","DOM"],"paddingInner":0,"paddingOuter":0}},"y":{"field":"h","type":"quantitative"},"text":{"field":"s"}}},
    {"data":{"values":[{}]},"mark":{"type":"text","text":"(f)","align":"left","baseline":"top","dx":2,"dy":2,"fontSize":11,"fontWeight":"bold","color":"#ee1c25"},
     "encoding":{"x":{"datum":"NO₂⁻","type":"nominal","bandPosition":0,"scale":{"type":"band","domain":["NO₂⁻","NO₃⁻","DOM"],"paddingInner":0,"paddingOuter":0}},"y":{"datum":162,"type":"quantitative"}}}
   ]}
 ],"spacing":18},
 {"hconcat":[
  {"width":107,"height":153,
   "view":{"fill":{"gradient":"linear","x1":0,"y1":0,"x2":0,"y2":1,"stops":[{"offset":0,"color":"#fffbe1"},{"offset":1,"color":"#eaf3fc"}]},"stroke":"#3c3c3c","strokeWidth":1},
   "layer":[
    {"data":{"name":"g_pts"},"mark":{"type":"circle","size":7,"opacity":0.9,"xOffset":-4},
     "encoding":{"x":{"field":"c","type":"nominal","bandPosition":0.5,"scale":{"type":"band","domain":["NO₂⁻","NO₃⁻","DOM","All"],"paddingInner":0,"paddingOuter":0},"axis":{"title":null}},
      "y":{"field":"v","type":"quantitative","scale":{"domain":[-0.16,4.05],"nice":false,"zero":false},"axis":{"title":"[·OH]ₛₛ (M)","values":[0,0.5,1,1.5,2,2.5,3,3.5,4],"tickCount":30,"labelOverlap":false,"labelExpr":"datum.value == 0 ? '0.0' : datum.value < 1 ? '5.0×10⁻¹⁶' : format(datum.value, '.1f') + '×10⁻¹⁵'"}},
      "color":{"field":"c","type":"nominal","scale":{"domain":["NO₂⁻","NO₃⁻","DOM","All"],"range":["#ee2a2e","#2f80c3","#3daf4a","#9c45ac"]},"legend":null}}},
    {"data":{"name":"g_box"},"mark":{"type":"rule","xOffset":5,"strokeWidth":0.8},
     "encoding":{"x":{"field":"c","type":"nominal","bandPosition":0.5,"scale":{"type":"band","domain":["NO₂⁻","NO₃⁻","DOM","All"],"paddingInner":0,"paddingOuter":0}},"y":{"field":"lo","type":"quantitative"},"y2":{"field":"hi"},"color":{"field":"c","type":"nominal","scale":{"domain":["NO₂⁻","NO₃⁻","DOM","All"],"range":["#ee2a2e","#2f80c3","#3daf4a","#9c45ac"]},"legend":null}}},
    {"data":{"name":"g_box"},"mark":{"type":"tick","xOffset":5,"size":5,"thickness":0.8,"orient":"horizontal"},
     "encoding":{"x":{"field":"c","type":"nominal","bandPosition":0.5,"scale":{"type":"band","domain":["NO₂⁻","NO₃⁻","DOM","All"],"paddingInner":0,"paddingOuter":0}},"y":{"field":"hi","type":"quantitative"},"color":{"field":"c","type":"nominal","scale":{"domain":["NO₂⁻","NO₃⁻","DOM","All"],"range":["#ee2a2e","#2f80c3","#3daf4a","#9c45ac"]},"legend":null}}},
    {"data":{"name":"g_box"},"mark":{"type":"tick","xOffset":5,"size":5,"thickness":0.8,"orient":"horizontal"},
     "encoding":{"x":{"field":"c","type":"nominal","bandPosition":0.5,"scale":{"type":"band","domain":["NO₂⁻","NO₃⁻","DOM","All"],"paddingInner":0,"paddingOuter":0}},"y":{"field":"lo","type":"quantitative"},"color":{"field":"c","type":"nominal","scale":{"domain":["NO₂⁻","NO₃⁻","DOM","All"],"range":["#ee2a2e","#2f80c3","#3daf4a","#9c45ac"]},"legend":null}}},
    {"data":{"name":"g_box"},"mark":{"type":"bar","width":8,"xOffset":5,"fillOpacity":0.3,"strokeWidth":0.8},
     "encoding":{"x":{"field":"c","type":"nominal","bandPosition":0.5,"scale":{"type":"band","domain":["NO₂⁻","NO₃⁻","DOM","All"],"paddingInner":0,"paddingOuter":0}},"y":{"field":"q1","type":"quantitative"},"y2":{"field":"q3"},"fill":{"field":"c","type":"nominal","scale":{"domain":["NO₂⁻","NO₃⁻","DOM","All"],"range":["#ee2a2e","#2f80c3","#3daf4a","#9c45ac"]},"legend":null},"stroke":{"field":"c","type":"nominal","scale":{"domain":["NO₂⁻","NO₃⁻","DOM","All"],"range":["#ee2a2e","#2f80c3","#3daf4a","#9c45ac"]},"legend":null}}},
    {"data":{"name":"g_box"},"mark":{"type":"tick","xOffset":5,"size":8,"thickness":0.8,"orient":"horizontal"},
     "encoding":{"x":{"field":"c","type":"nominal","bandPosition":0.5,"scale":{"type":"band","domain":["NO₂⁻","NO₃⁻","DOM","All"],"paddingInner":0,"paddingOuter":0}},"y":{"field":"med","type":"quantitative"},"color":{"field":"c","type":"nominal","scale":{"domain":["NO₂⁻","NO₃⁻","DOM","All"],"range":["#ee2a2e","#2f80c3","#3daf4a","#9c45ac"]},"legend":null}}},
    {"data":{"name":"g_box"},"mark":{"type":"square","xOffset":5,"size":4,"filled":true},
     "encoding":{"x":{"field":"c","type":"nominal","bandPosition":0.5,"scale":{"type":"band","domain":["NO₂⁻","NO₃⁻","DOM","All"],"paddingInner":0,"paddingOuter":0}},"y":{"field":"mean","type":"quantitative"},"color":{"field":"c","type":"nominal","scale":{"domain":["NO₂⁻","NO₃⁻","DOM","All"],"range":["#ee2a2e","#2f80c3","#3daf4a","#9c45ac"]},"legend":null}}},
    {"data":{"name":"g_br"},"mark":{"type":"rule","color":"#8c8c8c","strokeWidth":1,"xOffset":2,"x2Offset":-2},
     "encoding":{"x":{"field":"g1","type":"nominal","bandPosition":0.5,"scale":{"type":"band","domain":["NO₂⁻","NO₃⁻","DOM","All"],"paddingInner":0,"paddingOuter":0}},"x2":{"field":"g2","bandPosition":0.5},"y":{"field":"h","type":"quantitative"}}},
    {"data":{"name":"g_br"},"mark":{"type":"rule","color":"#8c8c8c","strokeWidth":1,"xOffset":2},
     "encoding":{"x":{"field":"g1","type":"nominal","bandPosition":0.5,"scale":{"type":"band","domain":["NO₂⁻","NO₃⁻","DOM","All"],"paddingInner":0,"paddingOuter":0}},"y":{"field":"h","type":"quantitative"},"y2":{"field":"yl"}}},
    {"data":{"name":"g_br"},"mark":{"type":"rule","color":"#8c8c8c","strokeWidth":1,"xOffset":-2},
     "encoding":{"x":{"field":"g2","type":"nominal","bandPosition":0.5,"scale":{"type":"band","domain":["NO₂⁻","NO₃⁻","DOM","All"],"paddingInner":0,"paddingOuter":0}},"y":{"field":"h","type":"quantitative"},"y2":{"field":"yr"}}},
    {"data":{"name":"g_br"},"transform":[{"filter":"isValid(datum.atc)"}],"mark":{"type":"text","color":"#ee1c25","fontSize":8.5,"fontWeight":"bold","baseline":"alphabetic","dy":1.5},
     "encoding":{"x":{"field":"atc","type":"nominal","bandPosition":0.5,"scale":{"type":"band","domain":["NO₂⁻","NO₃⁻","DOM","All"],"paddingInner":0,"paddingOuter":0}},"y":{"field":"h","type":"quantitative"},"text":{"field":"s"}}},
    {"data":{"name":"g_br"},"transform":[{"filter":"isValid(datum.ate)"}],"mark":{"type":"text","color":"#ee1c25","fontSize":8.5,"fontWeight":"bold","baseline":"alphabetic","dy":1.5},
     "encoding":{"x":{"field":"ate","type":"nominal","bandPosition":0,"scale":{"type":"band","domain":["NO₂⁻","NO₃⁻","DOM","All"],"paddingInner":0,"paddingOuter":0}},"y":{"field":"h","type":"quantitative"},"text":{"field":"s"}}},
    {"data":{"values":[{}]},"mark":{"type":"text","text":"(g)","align":"left","baseline":"top","dx":2,"dy":2,"fontSize":11,"fontWeight":"bold","color":"#ee1c25"},
     "encoding":{"x":{"datum":"NO₂⁻","type":"nominal","bandPosition":0,"scale":{"type":"band","domain":["NO₂⁻","NO₃⁻","DOM","All"],"paddingInner":0,"paddingOuter":0}},"y":{"datum":4.05,"type":"quantitative"}}}
   ]},
  {"width":90,"height":153,
   "view":{"fill":"#eef7f6","stroke":"#3c3c3c","strokeWidth":1},
   "layer":[
    {"data":{"name":"h_box"},"mark":{"type":"rule","strokeWidth":0.8},
     "encoding":{"x":{"field":"c","type":"nominal","bandPosition":0.5,"scale":{"type":"band","domain":["NO₂⁻","NO₃⁻","DOM"],"paddingInner":0,"paddingOuter":0},"axis":{"title":null}},
      "y":{"field":"lo","type":"quantitative","scale":{"domain":[-9,145],"nice":false,"zero":false},"axis":{"title":["The percentage of [·OH]ₛₛ produced","by each pathway to the total [·OH]ₛₛ (%)"],"values":[0,20,40,60,80,100,120,140],"tickCount":30,"labelOverlap":false,"titleFontSize":8,"titleLineHeight":9}},
      "y2":{"field":"hi"},"color":{"field":"c","type":"nominal","scale":{"domain":["NO₂⁻","NO₃⁻","DOM","All"],"range":["#ee2a2e","#2f80c3","#3daf4a","#9c45ac"]},"legend":null}}},
    {"data":{"name":"h_box"},"mark":{"type":"tick","size":10,"thickness":0.8,"orient":"horizontal"},
     "encoding":{"x":{"field":"c","type":"nominal","bandPosition":0.5,"scale":{"type":"band","domain":["NO₂⁻","NO₃⁻","DOM"],"paddingInner":0,"paddingOuter":0}},"y":{"field":"lo","type":"quantitative"},"color":{"field":"c","type":"nominal","scale":{"domain":["NO₂⁻","NO₃⁻","DOM","All"],"range":["#ee2a2e","#2f80c3","#3daf4a","#9c45ac"]},"legend":null}}},
    {"data":{"name":"h_box"},"mark":{"type":"tick","size":10,"thickness":0.8,"orient":"horizontal"},
     "encoding":{"x":{"field":"c","type":"nominal","bandPosition":0.5,"scale":{"type":"band","domain":["NO₂⁻","NO₃⁻","DOM"],"paddingInner":0,"paddingOuter":0}},"y":{"field":"hi","type":"quantitative"},"color":{"field":"c","type":"nominal","scale":{"domain":["NO₂⁻","NO₃⁻","DOM","All"],"range":["#ee2a2e","#2f80c3","#3daf4a","#9c45ac"]},"legend":null}}},
    {"data":{"name":"h_box"},"transform":[{"fold":["q1","med","q3","q3","med","q1","q1"],"as":["k","kv"]},{"window":[{"op":"row_number","as":"idx"}],"groupby":["c"]}],"mark":{"type":"line","strokeWidth":0.9,"strokeJoin":"miter","fillOpacity":0.3},
     "encoding":{"x":{"field":"c","type":"nominal","bandPosition":0.5,"scale":{"type":"band","domain":["NO₂⁻","NO₃⁻","DOM"],"paddingInner":0,"paddingOuter":0}},"xOffset":{"field":"idx","type":"quantitative","scale":{"domain":[1,2,3,4,5,6,7],"range":[13,6,13,17,24,17,13],"zero":false,"nice":false}},"y":{"field":"kv","type":"quantitative"},"order":{"field":"idx","type":"quantitative"},"fill":{"field":"c","type":"nominal","scale":{"domain":["NO₂⁻","NO₃⁻","DOM","All"],"range":["#ee2a2e","#2f80c3","#3daf4a","#9c45ac"]},"legend":null},"stroke":{"field":"c","type":"nominal","scale":{"domain":["NO₂⁻","NO₃⁻","DOM","All"],"range":["#ee2a2e","#2f80c3","#3daf4a","#9c45ac"]},"legend":null}}},
    {"data":{"name":"h_box"},"mark":{"type":"tick","size":16,"thickness":0.8,"orient":"horizontal"},
     "encoding":{"x":{"field":"c","type":"nominal","bandPosition":0.5,"scale":{"type":"band","domain":["NO₂⁻","NO₃⁻","DOM"],"paddingInner":0,"paddingOuter":0}},"y":{"field":"med","type":"quantitative"},"color":{"field":"c","type":"nominal","scale":{"domain":["NO₂⁻","NO₃⁻","DOM","All"],"range":["#ee2a2e","#2f80c3","#3daf4a","#9c45ac"]},"legend":null}}},
    {"data":{"name":"h_box"},"mark":{"type":"point","shape":"cross","size":5,"filled":true},
     "encoding":{"x":{"field":"c","type":"nominal","bandPosition":0.5,"scale":{"type":"band","domain":["NO₂⁻","NO₃⁻","DOM"],"paddingInner":0,"paddingOuter":0}},"y":{"field":"mean","type":"quantitative"},"color":{"field":"c","type":"nominal","scale":{"domain":["NO₂⁻","NO₃⁻","DOM","All"],"range":["#ee2a2e","#2f80c3","#3daf4a","#9c45ac"]},"legend":null}}},
    {"data":{"name":"h_out"},"mark":{"type":"point","shape":"diamond","filled":true,"size":14,"opacity":1},
     "encoding":{"x":{"field":"c","type":"nominal","bandPosition":0.5,"scale":{"type":"band","domain":["NO₂⁻","NO₃⁻","DOM"],"paddingInner":0,"paddingOuter":0}},"y":{"field":"v","type":"quantitative"},"color":{"field":"c","type":"nominal","scale":{"domain":["NO₂⁻","NO₃⁻","DOM","All"],"range":["#ee2a2e","#2f80c3","#3daf4a","#9c45ac"]},"legend":null}}},
    {"data":{"name":"h_br"},"mark":{"type":"rule","color":"#8c8c8c","strokeWidth":1,"xOffset":2,"x2Offset":-2},
     "encoding":{"x":{"field":"g1","type":"nominal","bandPosition":0.5,"scale":{"type":"band","domain":["NO₂⁻","NO₃⁻","DOM"],"paddingInner":0,"paddingOuter":0}},"x2":{"field":"g2","bandPosition":0.5},"y":{"field":"h","type":"quantitative"}}},
    {"data":{"name":"h_br"},"mark":{"type":"rule","color":"#8c8c8c","strokeWidth":1,"xOffset":2},
     "encoding":{"x":{"field":"g1","type":"nominal","bandPosition":0.5,"scale":{"type":"band","domain":["NO₂⁻","NO₃⁻","DOM"],"paddingInner":0,"paddingOuter":0}},"y":{"field":"h","type":"quantitative"},"y2":{"field":"yl"}}},
    {"data":{"name":"h_br"},"mark":{"type":"rule","color":"#8c8c8c","strokeWidth":1,"xOffset":-2},
     "encoding":{"x":{"field":"g2","type":"nominal","bandPosition":0.5,"scale":{"type":"band","domain":["NO₂⁻","NO₃⁻","DOM"],"paddingInner":0,"paddingOuter":0}},"y":{"field":"h","type":"quantitative"},"y2":{"field":"yr"}}},
    {"data":{"name":"h_br"},"transform":[{"filter":"isValid(datum.atc)"}],"mark":{"type":"text","color":"#ee1c25","fontSize":8.5,"fontWeight":"bold","baseline":"alphabetic","dy":1.5},
     "encoding":{"x":{"field":"atc","type":"nominal","bandPosition":0.5,"scale":{"type":"band","domain":["NO₂⁻","NO₃⁻","DOM"],"paddingInner":0,"paddingOuter":0}},"y":{"field":"h","type":"quantitative"},"text":{"field":"s"}}},
    {"data":{"name":"h_br"},"transform":[{"filter":"isValid(datum.ate)"}],"mark":{"type":"text","color":"#ee1c25","fontSize":8.5,"fontWeight":"bold","baseline":"alphabetic","dy":1.5},
     "encoding":{"x":{"field":"ate","type":"nominal","bandPosition":0,"scale":{"type":"band","domain":["NO₂⁻","NO₃⁻","DOM"],"paddingInner":0,"paddingOuter":0}},"y":{"field":"h","type":"quantitative"},"text":{"field":"s"}}},
    {"data":{"values":[{}]},"mark":{"type":"text","text":"(h)","align":"left","baseline":"top","dx":2,"dy":2,"fontSize":11,"fontWeight":"bold","color":"#ee1c25"},
     "encoding":{"x":{"datum":"NO₂⁻","type":"nominal","bandPosition":0,"scale":{"type":"band","domain":["NO₂⁻","NO₃⁻","DOM"],"paddingInner":0,"paddingOuter":0}},"y":{"datum":145,"type":"quantitative"}}}
   ]}
 ],"spacing":20}
],"spacing":4}
],
"datasets":{
 "a_pts":[
  {"c":"NO₂⁻","v":3.3},{"c":"NO₂⁻","v":1.5},{"c":"NO₂⁻","v":0.8},{"c":"NO₂⁻","v":0.6},{"c":"NO₂⁻","v":0.5},{"c":"NO₂⁻","v":0.45},{"c":"NO₂⁻","v":0.4},{"c":"NO₂⁻","v":0.3},{"c":"NO₂⁻","v":0.25},{"c":"NO₂⁻","v":0.2},{"c":"NO₂⁻","v":0.15},{"c":"NO₂⁻","v":0.1},{"c":"NO₂⁻","v":0.05},{"c":"NO₂⁻","v":0.02},
  {"c":"NO₃⁻","v":0.22},{"c":"NO₃⁻","v":0.18},{"c":"NO₃⁻","v":0.15},{"c":"NO₃⁻","v":0.12},{"c":"NO₃⁻","v":0.1},{"c":"NO₃⁻","v":0.08},{"c":"NO₃⁻","v":0.06},{"c":"NO₃⁻","v":0.04},{"c":"NO₃⁻","v":0.02},
  {"c":"DOM","v":3.4},{"c":"DOM","v":3.2},{"c":"DOM","v":3.0},{"c":"DOM","v":2.7},{"c":"DOM","v":2.5},{"c":"DOM","v":2.3},{"c":"DOM","v":2.0},{"c":"DOM","v":1.9},{"c":"DOM","v":1.7},{"c":"DOM","v":1.5},{"c":"DOM","v":1.4},{"c":"DOM","v":1.3},{"c":"DOM","v":1.2},{"c":"DOM","v":1.1},{"c":"DOM","v":1.0},{"c":"DOM","v":0.95},{"c":"DOM","v":0.9},{"c":"DOM","v":0.85},{"c":"DOM","v":0.8},{"c":"DOM","v":0.7},{"c":"DOM","v":0.6},{"c":"DOM","v":0.5},{"c":"DOM","v":0.4},{"c":"DOM","v":0.3},{"c":"DOM","v":0.2},
  {"c":"All","v":4.9},{"c":"All","v":4.3},{"c":"All","v":3.6},{"c":"All","v":3.2},{"c":"All","v":2.9},{"c":"All","v":2.7},{"c":"All","v":2.5},{"c":"All","v":2.2},{"c":"All","v":2.0},{"c":"All","v":1.8},{"c":"All","v":1.6},{"c":"All","v":1.5},{"c":"All","v":1.4},{"c":"All","v":1.3},{"c":"All","v":1.2},{"c":"All","v":1.1},{"c":"All","v":1.0},{"c":"All","v":0.9},{"c":"All","v":0.8},{"c":"All","v":0.7},{"c":"All","v":0.6},{"c":"All","v":0.5},{"c":"All","v":0.3}],
 "a_box":[
  {"c":"NO₂⁻","lo":0,"q1":0.05,"med":0.12,"q3":0.3,"hi":0.5,"mean":0.35},
  {"c":"NO₃⁻","lo":0,"q1":0.03,"med":0.07,"q3":0.12,"hi":0.2,"mean":0.08},
  {"c":"DOM","lo":0.2,"q1":0.6,"med":1.1,"q3":1.48,"hi":2.4,"mean":1.2},
  {"c":"All","lo":0.3,"q1":0.78,"med":1.35,"q3":2.05,"hi":3.2,"mean":1.55}],
 "a_out":[
  {"c":"NO₂⁻","v":0.6},{"c":"NO₂⁻","v":0.7},{"c":"NO₂⁻","v":0.8},{"c":"NO₂⁻","v":0.9},{"c":"NO₂⁻","v":1.5},{"c":"NO₂⁻","v":3.3},
  {"c":"NO₃⁻","v":0.22},
  {"c":"DOM","v":2.6},{"c":"DOM","v":2.8},{"c":"DOM","v":3.0},{"c":"DOM","v":3.2},{"c":"DOM","v":3.4},
  {"c":"All","v":3.6},{"c":"All","v":4.9}],
 "a_br":[
  {"g1":"NO₂⁻","g2":"All","h":9.1,"yl":7.4,"yr":8.6,"s":"***","ate":"DOM"},
  {"g1":"NO₃⁻","g2":"All","h":8.1,"yl":7.4,"yr":6.3,"s":"***","atc":"DOM"},
  {"g1":"NO₂⁻","g2":"DOM","h":7.05,"yl":3.85,"yr":6.6,"s":"***","atc":"NO₃⁻"},
  {"g1":"NO₃⁻","g2":"DOM","h":6.05,"yl":0.5,"yr":3.6,"s":"***","ate":"DOM"},
  {"g1":"DOM","g2":"All","h":6.05,"yl":3.6,"yr":5.3,"s":"**","ate":"All"}],
 "b_box":[
  {"c":"NO₂⁻","lo":0,"q1":9.5,"med":13,"q3":25,"hi":45,"mean":20},
  {"c":"NO₃⁻","lo":0,"q1":3.5,"med":6,"q3":9,"hi":14,"mean":7},
  {"c":"DOM","lo":38,"q1":62,"med":82,"q3":87,"hi":97,"mean":75}],
 "b_out":[
  {"c":"NO₂⁻","v":47},{"c":"NO₂⁻","v":59},{"c":"NO₂⁻","v":67},{"c":"NO₂⁻","v":77},
  {"c":"NO₃⁻","v":25},
  {"c":"DOM","v":33},{"c":"DOM","v":31},{"c":"DOM","v":20}],
 "b_br":[
  {"g1":"NO₂⁻","g2":"DOM","h":131,"yl":123,"yr":122,"s":"***","atc":"NO₃⁻"},
  {"g1":"NO₂⁻","g2":"NO₃⁻","h":117,"yl":88,"yr":34,"s":"***","ate":"NO₃⁻"},
  {"g1":"NO₃⁻","g2":"DOM","h":117,"yl":34,"yr":108,"s":"***","ate":"DOM"}],
 "c_pts":[
  {"c":"NO₂⁻","v":3.35},{"c":"NO₂⁻","v":1.55},{"c":"NO₂⁻","v":0.9},{"c":"NO₂⁻","v":0.5},{"c":"NO₂⁻","v":0.3},{"c":"NO₂⁻","v":0.2},{"c":"NO₂⁻","v":0.15},{"c":"NO₂⁻","v":0.12},{"c":"NO₂⁻","v":0.1},{"c":"NO₂⁻","v":0.08},{"c":"NO₂⁻","v":0.05},{"c":"NO₂⁻","v":0.03},
  {"c":"NO₃⁻","v":0.2},{"c":"NO₃⁻","v":0.15},{"c":"NO₃⁻","v":0.12},{"c":"NO₃⁻","v":0.1},{"c":"NO₃⁻","v":0.08},{"c":"NO₃⁻","v":0.06},{"c":"NO₃⁻","v":0.05},{"c":"NO₃⁻","v":0.03},{"c":"NO₃⁻","v":0.02},
  {"c":"DOM","v":3.4},{"c":"DOM","v":2.4},{"c":"DOM","v":2.35},{"c":"DOM","v":1.5},{"c":"DOM","v":1.1},{"c":"DOM","v":0.95},{"c":"DOM","v":0.9},{"c":"DOM","v":0.85},{"c":"DOM","v":0.8},{"c":"DOM","v":0.7},{"c":"DOM","v":0.6},{"c":"DOM","v":0.5},{"c":"DOM","v":0.4},{"c":"DOM","v":0.3},
  {"c":"All","v":4.3},{"c":"All","v":3.6},{"c":"All","v":2.7},{"c":"All","v":2.5},{"c":"All","v":2.2},{"c":"All","v":1.9},{"c":"All","v":1.8},{"c":"All","v":1.6},{"c":"All","v":1.5},{"c":"All","v":1.3},{"c":"All","v":1.2},{"c":"All","v":1.0},{"c":"All","v":0.8},{"c":"All","v":0.7},{"c":"All","v":0.6},{"c":"All","v":0.5}],
 "c_box":[
  {"c":"NO₂⁻","lo":0,"q1":0.05,"med":0.1,"q3":0.2,"hi":0.35,"mean":0.4},
  {"c":"NO₃⁻","lo":0,"q1":0.04,"med":0.07,"q3":0.12,"hi":0.2,"mean":0.08},
  {"c":"DOM","lo":0.25,"q1":0.57,"med":0.9,"q3":1.3,"hi":1.85,"mean":1.1},
  {"c":"All","lo":0.45,"q1":0.78,"med":1.35,"q3":1.93,"hi":2.7,"mean":1.55}],
 "c_out":[
  {"c":"NO₂⁻","v":0.5},{"c":"NO₂⁻","v":0.9},{"c":"NO₂⁻","v":1.55},{"c":"NO₂⁻","v":3.35},
  {"c":"DOM","v":2.3},{"c":"DOM","v":2.4},{"c":"DOM","v":3.4},
  {"c":"All","v":3.6},{"c":"All","v":4.3}],
 "c_br":[
  {"g1":"NO₂⁻","g2":"All","h":8.0,"yl":6.5,"yr":7.6,"s":"***","ate":"DOM"},
  {"g1":"NO₃⁻","g2":"All","h":7.27,"yl":6.5,"yr":5.7,"s":"***","atc":"DOM"},
  {"g1":"NO₂⁻","g2":"DOM","h":6.3,"yl":3.9,"yr":5.95,"s":"**","atc":"NO₃⁻"},
  {"g1":"NO₃⁻","g2":"DOM","h":5.3,"yl":0.45,"yr":4.0,"s":"***","ate":"DOM"},
  {"g1":"DOM","g2":"All","h":5.3,"yl":4.0,"yr":4.75,"s":"*","ate":"All"}],
 "d_box":[
  {"c":"NO₂⁻","lo":3,"q1":10,"med":12,"q3":27,"hi":42,"mean":20},
  {"c":"NO₃⁻","lo":1,"q1":3.5,"med":6,"q3":9,"hi":15,"mean":7},
  {"c":"DOM","lo":33,"q1":60,"med":82,"q3":86,"hi":96,"mean":73}],
 "d_out":[
  {"c":"NO₂⁻","v":59},{"c":"NO₂⁻","v":76},
  {"c":"DOM","v":31},{"c":"DOM","v":20}],
 "d_br":[
  {"g1":"NO₂⁻","g2":"DOM","h":133.5,"yl":126.5,"yr":123,"s":"***","atc":"NO₃⁻"},
  {"g1":"NO₂⁻","g2":"NO₃⁻","h":116,"yl":86,"yr":24,"s":"*","ate":"NO₃⁻"},
  {"g1":"NO₃⁻","g2":"DOM","h":116,"yl":24,"yr":98,"s":"***","ate":"DOM"}],
 "e_pts":[
  {"c":"NO₂⁻","v":3.3},{"c":"NO₂⁻","v":0.8},{"c":"NO₂⁻","v":0.6},{"c":"NO₂⁻","v":0.5},{"c":"NO₂⁻","v":0.4},{"c":"NO₂⁻","v":0.35},{"c":"NO₂⁻","v":0.3},{"c":"NO₂⁻","v":0.25},{"c":"NO₂⁻","v":0.2},{"c":"NO₂⁻","v":0.15},{"c":"NO₂⁻","v":0.1},
  {"c":"NO₃⁻","v":0.25},{"c":"NO₃⁻","v":0.2},{"c":"NO₃⁻","v":0.15},{"c":"NO₃⁻","v":0.12},{"c":"NO₃⁻","v":0.1},{"c":"NO₃⁻","v":0.08},{"c":"NO₃⁻","v":0.05},
  {"c":"DOM","v":3.1},{"c":"DOM","v":2.6},{"c":"DOM","v":2.3},{"c":"DOM","v":1.9},{"c":"DOM","v":1.7},{"c":"DOM","v":1.5},{"c":"DOM","v":1.3},{"c":"DOM","v":1.2},{"c":"DOM","v":1.1},{"c":"DOM","v":1.0},{"c":"DOM","v":0.9},{"c":"DOM","v":0.5},{"c":"DOM","v":0.3},
  {"c":"All","v":4.9},{"c":"All","v":3.2},{"c":"All","v":3.0},{"c":"All","v":2.6},{"c":"All","v":2.2},{"c":"All","v":1.9},{"c":"All","v":1.7},{"c":"All","v":1.5},{"c":"All","v":1.4},{"c":"All","v":1.2},{"c":"All","v":1.0},{"c":"All","v":0.8},{"c":"All","v":0.5},{"c":"All","v":0.3}],
 "e_box":[
  {"c":"NO₂⁻","lo":0,"q1":0.1,"med":0.25,"q3":0.45,"hi":0.8,"mean":0.45},
  {"c":"NO₃⁻","lo":0.05,"q1":0.08,"med":0.12,"q3":0.18,"hi":0.25,"mean":0.13},
  {"c":"DOM","lo":0.15,"q1":0.55,"med":1.2,"q3":1.5,"hi":2.0,"mean":1.2},
  {"c":"All","lo":0.3,"q1":1.1,"med":1.55,"q3":2.3,"hi":3.2,"mean":1.7}],
 "e_out":[
  {"c":"NO₂⁻","v":3.3},
  {"c":"DOM","v":2.6},{"c":"DOM","v":3.1},
  {"c":"All","v":4.9}],
 "e_br":[
  {"g1":"NO₂⁻","g2":"All","h":9.06,"yl":7.4,"yr":8.6,"s":"***","ate":"DOM"},
  {"g1":"NO₃⁻","g2":"All","h":8.05,"yl":7.4,"yr":5.3,"s":"***","atc":"DOM"},
  {"g1":"NO₂⁻","g2":"DOM","h":7.07,"yl":3.6,"yr":6.6,"s":"**","atc":"NO₃⁻"},
  {"g1":"NO₃⁻","g2":"DOM","h":6.0,"yl":0.5,"yr":5.5,"s":"***","ate":"DOM"}],
 "f_box":[
  {"c":"NO₂⁻","lo":0,"q1":8,"med":14,"q3":31,"hi":47,"mean":20},
  {"c":"NO₃⁻","lo":2,"q1":4,"med":6,"q3":9,"hi":14,"mean":7},
  {"c":"DOM","lo":30,"q1":56,"med":79,"q3":85,"hi":97,"mean":70}],
 "f_out":[
  {"c":"NO₂⁻","v":66},
  {"c":"NO₃⁻","v":25}],
 "f_br":[
  {"g1":"NO₂⁻","g2":"DOM","h":136.7,"yl":130,"yr":126.7,"s":"***","atc":"NO₃⁻"},
  {"g1":"NO₂⁻","g2":"NO₃⁻","h":120,"yl":73,"yr":36,"s":"*","ate":"NO₃⁻"},
  {"g1":"NO₃⁻","g2":"DOM","h":120,"yl":36,"yr":108,"s":"***","ate":"DOM"}],
 "g_pts":[
  {"c":"NO₂⁻","v":0.2},{"c":"NO₂⁻","v":0.17},{"c":"NO₂⁻","v":0.14},{"c":"NO₂⁻","v":0.12},{"c":"NO₂⁻","v":0.1},{"c":"NO₂⁻","v":0.09},
  {"c":"NO₃⁻","v":0.1},{"c":"NO₃⁻","v":0.08},{"c":"NO₃⁻","v":0.07},{"c":"NO₃⁻","v":0.05},
  {"c":"DOM","v":1.7},{"c":"DOM","v":1.55},{"c":"DOM","v":0.6},{"c":"DOM","v":0.53},{"c":"DOM","v":0.5},
  {"c":"All","v":1.95},{"c":"All","v":1.75},{"c":"All","v":0.72},{"c":"All","v":0.65},{"c":"All","v":0.6}],
 "g_box":[
  {"c":"NO₂⁻","lo":0.08,"q1":0.09,"med":0.11,"q3":0.14,"hi":0.18,"mean":0.12},
  {"c":"NO₃⁻","lo":0.02,"q1":0.04,"med":0.06,"q3":0.08,"hi":0.1,"mean":0.06},
  {"c":"DOM","lo":0.5,"q1":0.5,"med":0.56,"q3":1.55,"hi":1.68,"mean":0.96},
  {"c":"All","lo":0.59,"q1":0.65,"med":0.72,"q3":1.76,"hi":1.95,"mean":1.13}],
 "g_br":[
  {"g1":"NO₂⁻","g2":"All","h":3.51,"yl":2.9,"yr":3.3,"s":"**","ate":"DOM"},
  {"g1":"NO₃⁻","g2":"All","h":3.22,"yl":2.9,"yr":2.14,"s":"**","atc":"DOM"},
  {"g1":"NO₂⁻","g2":"DOM","h":2.71,"yl":0.34,"yr":2.5,"s":"**","atc":"NO₃⁻"},
  {"g1":"NO₃⁻","g2":"DOM","h":2.35,"yl":0.28,"yr":1.87,"s":"**","ate":"DOM"}],
 "h_box":[
  {"c":"NO₂⁻","lo":9,"q1":10,"med":10.5,"q3":11.5,"hi":14,"mean":10.8},
  {"c":"NO₃⁻","lo":1,"q1":3,"med":4.5,"q3":10,"hi":11,"mean":6},
  {"c":"DOM","lo":75,"q1":80,"med":86,"q3":87.5,"hi":88,"mean":84}],
 "h_out":[
  {"c":"NO₂⁻","v":7.5}],
 "h_br":[
  {"g1":"NO₂⁻","g2":"DOM","h":124.5,"yl":30,"yr":115,"s":"***","atc":"NO₃⁻"},
  {"g1":"NO₃⁻","g2":"DOM","h":108,"yl":21,"yr":98,"s":"***","ate":"DOM"}]
}
}
